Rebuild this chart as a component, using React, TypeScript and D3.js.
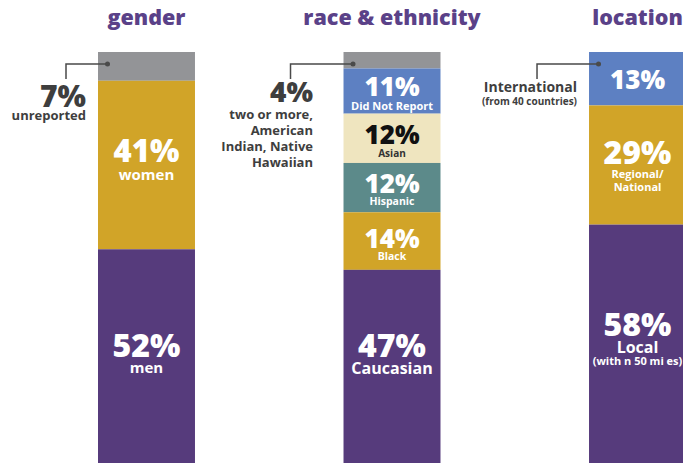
import React from "react";
import * as d3 from "d3";

const groups = ["gender", "race & ethnicity", "location"];

const genderCats = ["unreported", "women", "men"];
const genderVals = [7, 41, 52];

const raceCats = ["two or more", "Did Not Report", "Asian", "Hispanic", "Black", "Caucasian"];
const raceVals = [4, 11, 12, 12, 14, 47];

const locationCats = ["International", "Regional/National", "Local"];
const locationVals = [13, 29, 58];

const W = 683;
const H = 463;
const FONT = "'Open Sans', 'DejaVu Sans', sans-serif";

const C = {
  purple: "#563b7c",
  gold: "#d1a428",
  gray: "#939497",
  blue: "#5d80c2",
  cream: "#efe5bf",
  teal: "#5c8a8a",
  title: "#5a4188",
  dark: "#3e3e3e",
  leader: "#4a4a4a",
};

type SegStyle = {
  fill: string;
  pct?: number; // font size of pct
  pctColor?: string;
  sub?: string[];
  subSize?: number;
  subColor?: string;
  dy?: number; // pct baseline offset from segment mid
  gap?: number; // first sub baseline below pct baseline
  lh?: number;
};

const segStyles: Record<string, SegStyle> = {
  unreported: { fill: C.gray },
  women: { fill: C.gold, pct: 31, sub: ["women"], subSize: 15, dy: -3, gap: 18 },
  men: { fill: C.purple, pct: 32, sub: ["men"], subSize: 15, dy: 1, gap: 16 },
  "two or more": { fill: C.gray },
  "Did Not Report": { fill: C.blue, pct: 26, sub: ["Did Not Report"], subSize: 11, dy: 5, gap: 14 },
  Asian: { fill: C.cream, pct: 26, pctColor: "#111", sub: ["Asian"], subSize: 10, subColor: "#333", dy: 6, gap: 12.5 },
  Hispanic: { fill: C.teal, pct: 26, sub: ["Hispanic"], subSize: 10.5, dy: 5, gap: 12 },
  Black: { fill: C.gold, pct: 26, sub: ["Black"], subSize: 10.5, dy: 7, gap: 12 },
  Caucasian: { fill: C.purple, pct: 32, sub: ["Caucasian"], subSize: 16, dy: -9, gap: 16.5 },
  International: { fill: C.blue, pct: 26, dy: 10 },
  "Regional/National": { fill: C.gold, pct: 32, sub: ["Regional/", "National"], subSize: 11, dy: -1, gap: 13.5, lh: 13 },
  Local: { fill: C.purple, pct: 32, sub: ["Local", "(with n 50 mi es)"], subSize: 16, dy: -8, gap: 17.5, lh: 11.5 },
};

type Callout = {
  elbowX: number; // relative to bar left
  textRight: number; // relative to bar left (negative -> left)
  big?: string;
  bigSize?: number;
  bigBaseline?: number;
  lines: string[];
  lineSize: number;
  lineBaselines: number[];
  lineWeight?: number;
};

const callouts: Callout[] = [
  {
    elbowX: -32,
    textRight: -12,
    big: "7%",
    bigSize: 30,
    bigBaseline: 106.5,
    lines: ["unreported"],
    lineSize: 13,
    lineBaselines: [120],
  },
  {
    elbowX: -53,
    textRight: -30.5,
    big: "4%",
    bigSize: 28,
    bigBaseline: 101.5,
    lines: ["two or more,", "American", "Indian, Native", "Hawaiian"],
    lineSize: 13,
    lineBaselines: [118.5, 134.5, 150.5, 166.5],
  },
  {
    elbowX: -52,
    textRight: -12,
    lines: ["International", "(from 40 countries)"],
    lineSize: 14,
    lineBaselines: [91.5, 104.5],
  },
];

const series = [
  { cats: genderCats, vals: genderVals },
  { cats: raceCats, vals: raceVals },
  { cats: locationCats, vals: locationVals },
];

export default function App() {
  const x = d3.scaleBand<string>().domain(groups).range([98, 686]).paddingInner(0.605).paddingOuter(0);
  const y = d3.scaleLinear().domain([0, 100]).range([52, H]);
  const bw = x.bandwidth();

  return (
    <svg width={W} height={H} style={{ position: "absolute", left: 0, top: 0, display: "block" }} fontFamily={FONT}>
      <rect x={0} y={0} width={W} height={H} fill="#fff" />
      {groups.map((g, gi) => {
        const x0 = x(g)!;
        const cx = x0 + bw / 2;
        const s = series[gi];
        const cum = d3.cumsum(s.vals);
        const co = callouts[gi];
        const dotY = y(0) + 12;
        const elbowX = x0 + co.elbowX;
        const tr = x0 + co.textRight;
        return (
          <g key={g}>
            <text x={cx} y={25} textAnchor="middle" fontSize={21.5} fontWeight={800} fill={C.title}>
              {g}
            </text>
            {s.cats.map((c, i) => {
              const v0 = i === 0 ? 0 : cum[i - 1];
              const v1 = cum[i];
              const st = segStyles[c];
              const y0 = y(v0);
              const y1 = y(v1);
              const mid = (y0 + y1) / 2;
              const pb = mid + (st.dy ?? 0);
              return (
                <g key={c}>
                  <rect x={x0} y={y0} width={bw} height={y1 - y0} fill={st.fill} />
                  {st.pct && (
                    <text x={cx} y={pb} textAnchor="middle" fontSize={st.pct} fontWeight={800} fill={st.pctColor ?? "#fff"}>
                      {s.vals[i]}%
                    </text>
                  )}
                  {st.sub &&
                    st.sub.map((line, li) => (
                      <text
                        key={li}
                        x={cx}
                        y={pb + (st.gap ?? 14) + li * (st.lh ?? 12)}
                        textAnchor="middle"
                        fontSize={li > 0 && c === "Local" ? 11 : st.subSize}
                        fontWeight={700}
                        fill={st.subColor ?? "#fff"}
                      >
                        {line}
                      </text>
                    ))}
                </g>
              );
            })}
            <path
              d={`M${x0 + 9.5},${dotY}H${elbowX}V${dotY + 15}`}
              fill="none"
              stroke={C.leader}
              strokeWidth={1.5}
            />
            <circle cx={x0 + 9.5} cy={dotY} r={2.5} fill={C.leader} />
            {co.big && (
              <text x={tr} y={co.bigBaseline} textAnchor="end" fontSize={co.bigSize} fontWeight={800} fill={C.dark}>
                {co.big}
              </text>
            )}
            {co.lines.map((l, li) => (
              <text
                key={li}
                x={tr}
                y={co.lineBaselines[li]}
                textAnchor="end"
                fontSize={gi === 2 && li === 1 ? 10 : co.lineSize}
                fontWeight={700}
                fill={C.dark}
              >
                {l}
              </text>
            ))}
          </g>
        );
      })}
    </svg>
  );
}
